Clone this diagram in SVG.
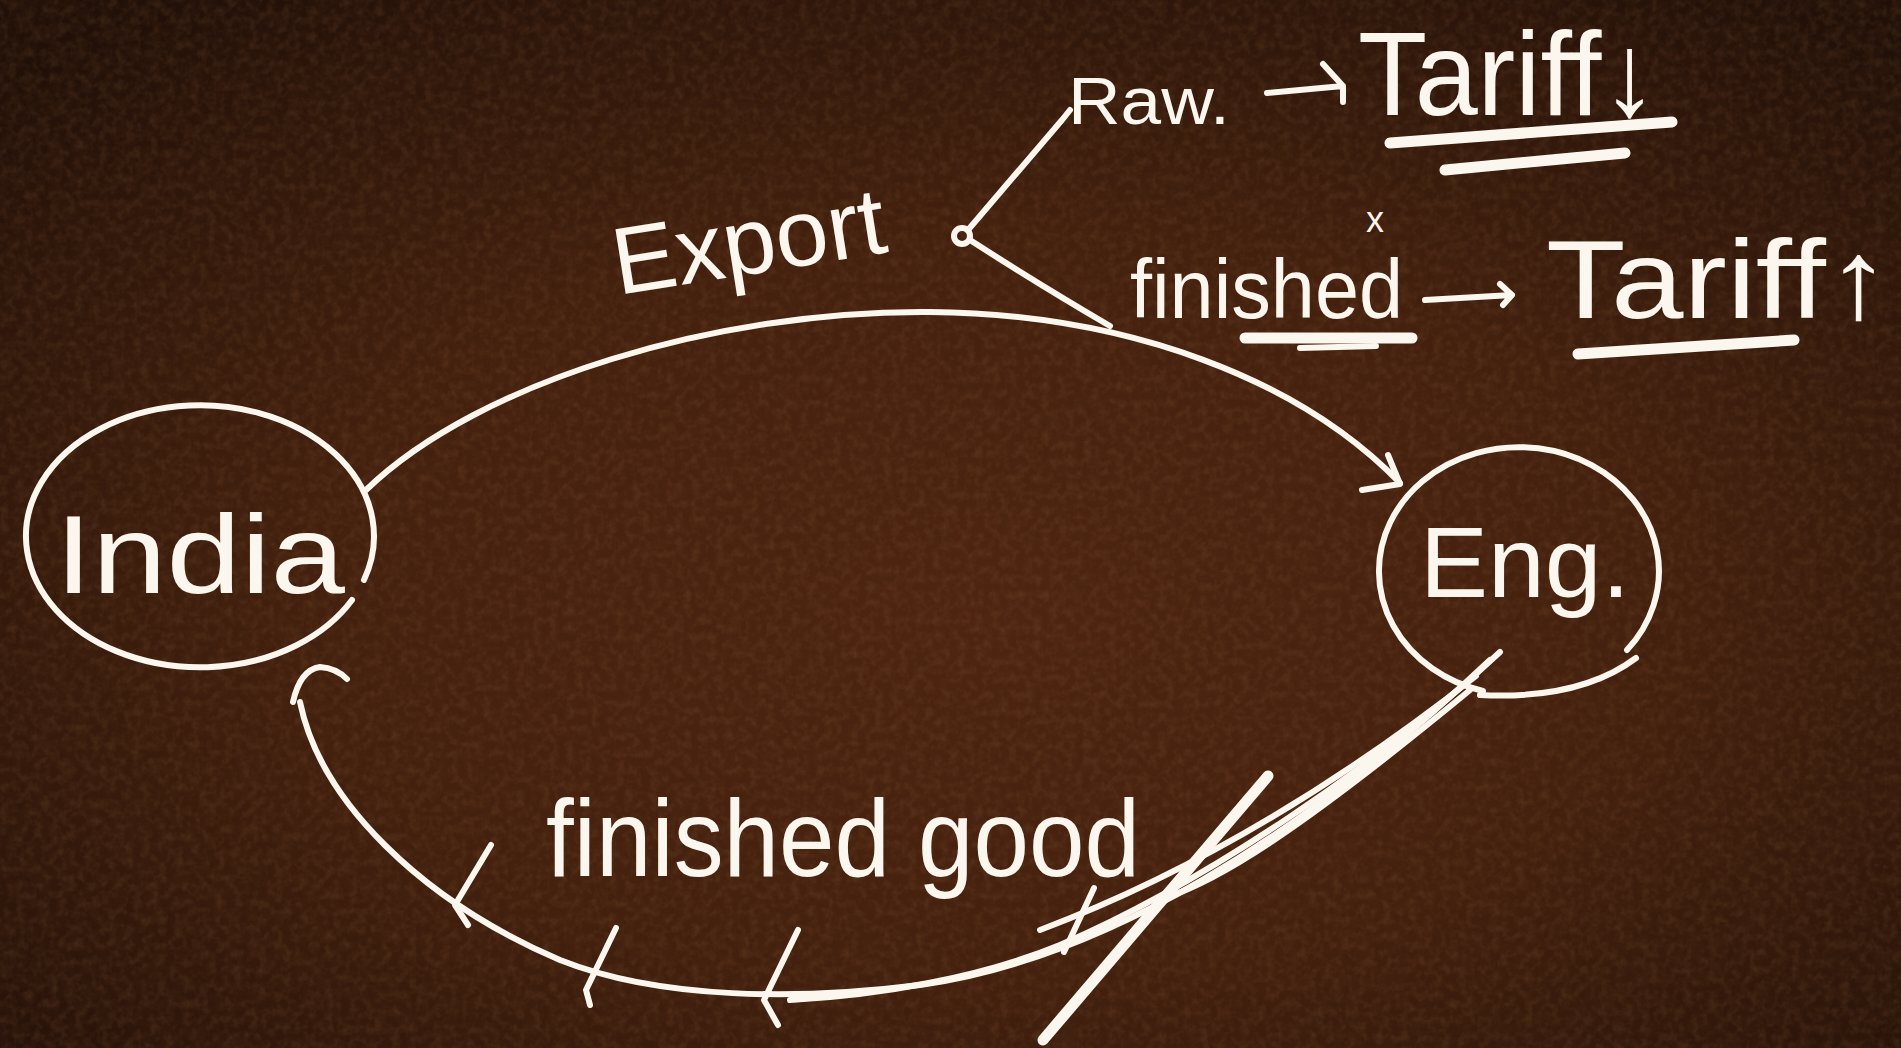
<svg xmlns="http://www.w3.org/2000/svg" width="1901" height="1048" viewBox="0 0 1901 1048">
<defs>
<radialGradient id="bg" cx="52%" cy="58%" r="72%">
<stop offset="0" stop-color="#4e2511"/>
<stop offset="0.5" stop-color="#43200e"/>
<stop offset="1" stop-color="#211008"/>
</radialGradient>
<filter id="grain" x="0" y="0" width="100%" height="100%">
<feTurbulence type="fractalNoise" baseFrequency="0.12" numOctaves="3" seed="7" result="n"/>
<feColorMatrix in="n" type="matrix" values="0 0 0 0 0.55  0 0 0 0 0.28  0 0 0 0 0.12  0 0 0 1.4 -0.55"/>
</filter>
<filter id="dark" x="0" y="0" width="100%" height="100%">
<feTurbulence type="fractalNoise" baseFrequency="0.08" numOctaves="2" seed="2" result="n"/>
<feColorMatrix in="n" type="matrix" values="0 0 0 0 0.08  0 0 0 0 0.03  0 0 0 0 0.01  0 0 0 1.4 -0.5"/>
</filter>
<style>
.s{fill:none;stroke:#fbf6ee;stroke-linecap:round;stroke-linejoin:round;stroke-width:6}
.t{fill:#fbf6ee;font-family:"Liberation Sans","DejaVu Sans",sans-serif}
.thick{stroke-width:11}
</style>
</defs>
<rect width="1901" height="1048" fill="url(#bg)"/>
<rect width="1901" height="1048" filter="url(#grain)" opacity="0.18"/>
<rect width="1901" height="1048" filter="url(#dark)" opacity="0.3"/>

<g id="node-india">
<path class="s" d="M 364 580 A 174 131 0 1 0 352 600"/>
<text class="t" x="55" y="593" font-size="112" textLength="290" lengthAdjust="spacingAndGlyphs">India</text>
</g>

<g id="node-eng">
<path class="s" d="M 1627 650 A 140 124 0 1 0 1483 691"/>
<path class="s" d="M 1636 658 Q 1580 700 1480 695"/>
<text class="t" x="1420" y="597" font-size="100" textLength="210" lengthAdjust="spacingAndGlyphs">Eng.</text>
</g>

<g id="connectors">
<!-- India to Eng (export) -->
<path class="s" d="M 366 490 C 480 380, 720 310, 930 312 C 1130 314, 1300 380, 1400 483"/>
<path class="s" d="M 1388 455 L 1400 484 L 1362 490"/>
<!-- Eng to India (finished good) -->
<path class="s" d="M 300 702 C 320 800, 420 900, 560 960 C 660 1000, 800 1000, 920 985 C 1100 960, 1300 840, 1490 660"/>
<path class="s" d="M 293 702 Q 300 670 320 667 Q 336 668 347 679"/>
<path class="s" d="M 1500 652 C 1380 765, 1200 885, 1060 945 C 980 978, 880 995, 790 1000"/>
<path class="s" d="M 1476 676 C 1350 775, 1200 870, 1040 930"/>
<path class="s" d="M 1268 776 L 1165 898 C 1220 880, 1300 830, 1470 690"/>
<path class="s thick" d="M 1268 776 L 1043 1040"/>
<!-- tick marks -->
<path class="s" d="M 491 845 L 455 905 L 468 925"/>
<path class="s" d="M 616 928 L 586 990 L 590 1005"/>
<path class="s" d="M 798 930 L 764 1000 L 778 1025"/>
<path class="s" d="M 1094 888 L 1064 952"/>
</g>

<g id="label-export">
<text class="t" x="618" y="295" font-size="95" textLength="275" lengthAdjust="spacingAndGlyphs" transform="rotate(-9 618 295)">Export</text>
<circle class="s" cx="962" cy="236" r="8"/>
<path class="s" d="M 968 230 L 1062 120 L 1070 110"/>
<path class="s" d="M 970 240 Q 1035 282 1110 326"/>
</g>

<g id="label-raw">
<text class="t" x="1068" y="124" font-size="66" textLength="162" lengthAdjust="spacingAndGlyphs">Raw.</text>
<path class="s" d="M 1267 93 L 1343 86 M 1323 64 L 1343 86 L 1343 102"/>
<text class="t" x="1358" y="115" font-size="118" textLength="300" lengthAdjust="spacingAndGlyphs">Tariff↓</text>
<path class="s thick" d="M 1390 143 L 1672 122"/>
<path class="s thick" d="M 1445 170 L 1625 153"/>
</g>

<g id="label-finished">
<text class="t" x="1375" y="232" font-size="36" text-anchor="middle">x</text>
<text class="t" x="1130" y="318" font-size="84" textLength="273" lengthAdjust="spacingAndGlyphs">finished</text>
<path class="s thick" d="M 1245 338 L 1412 338"/>
<path class="s" d="M 1300 348 L 1376 346"/>
<path class="s" d="M 1425 300 L 1512 295 M 1500 284 L 1512 295 L 1503 305"/>
<text class="t" x="1546" y="318" font-size="112" textLength="345" lengthAdjust="spacingAndGlyphs">Tariff↑</text>
<path class="s thick" d="M 1578 354 L 1794 340"/>
</g>

<g id="label-finished-good">
<text class="t" x="546" y="876" font-size="110" textLength="594" lengthAdjust="spacingAndGlyphs">finished good</text>
</g>
</svg>
